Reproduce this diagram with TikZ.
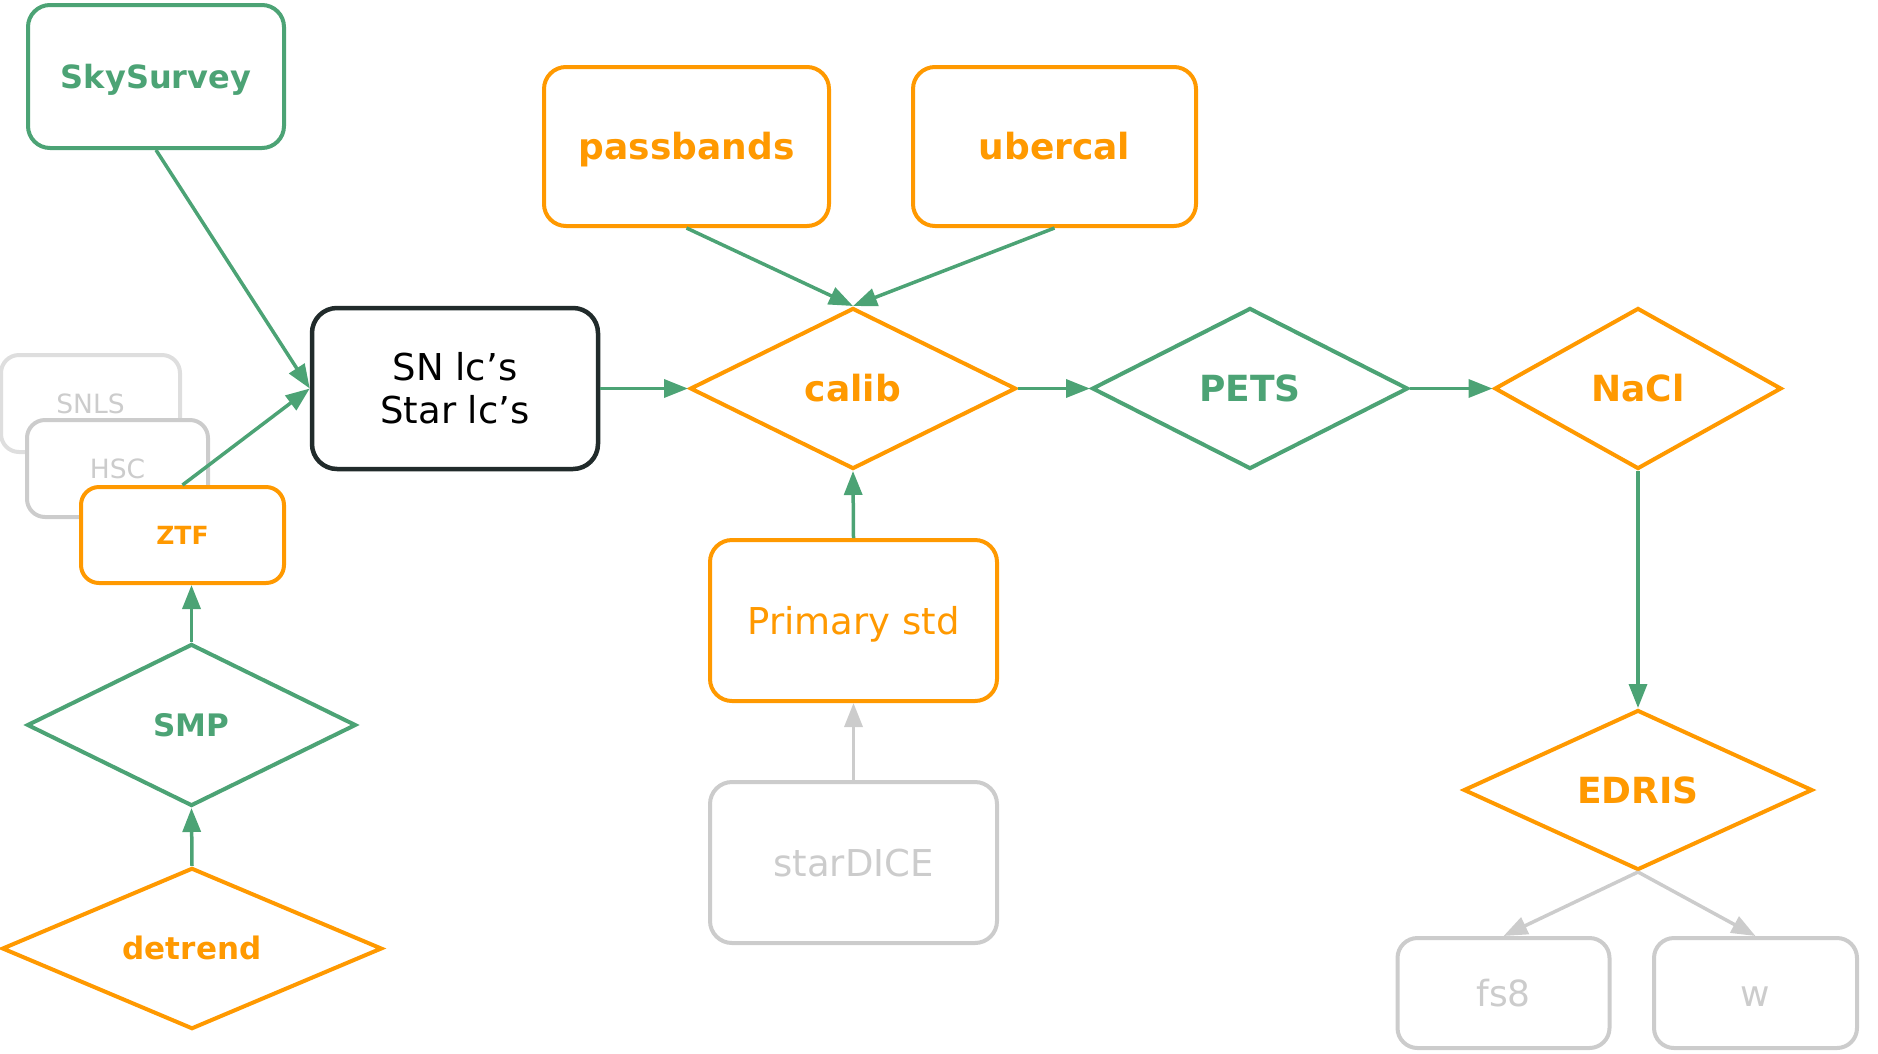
\documentclass[tikz,border=0pt]{standalone}
\usepackage{fontspec}
\setmainfont{DejaVu Sans}
\usetikzlibrary{shapes.geometric,arrows.meta}
\definecolor{cgreen}{RGB}{76,163,117}
\definecolor{corange}{RGB}{255,153,0}
\definecolor{cgray}{RGB}{204,204,204}
\definecolor{clgray}{RGB}{222,222,222}
\definecolor{cdark}{RGB}{33,43,43}
\begin{document}
\begin{tikzpicture}[x=1pt,y=-1pt,
  box/.style={draw, rounded corners=22pt, line width=4pt, fill=white, inner sep=0pt, align=center},
  dia/.style={draw, diamond, line width=4pt, inner sep=0pt, fill=white},
  fb/.style={font=\bfseries\fontsize{#1}{#1}\selectfont, text height={0.73*#1pt}, text depth=0pt},
  fr/.style={font=\fontsize{#1}{#1}\selectfont, text height={0.73*#1pt}, text depth=0pt},
  garrow/.style={draw=cgreen, line width=3.5pt, -{Triangle[length=24pt,width=18pt]}},
  grarrow/.style={draw=cgray, line width=3.5pt, -{Triangle[length=24pt,width=18pt]}}
]
\useasboundingbox (0,0) rectangle (1878,1053);

% left column
\node[box, draw=cgreen, text=cgreen, fb=32, minimum width=256pt, minimum height=143pt] (sky) at (156,76.5) {SkySurvey};
\node[box, draw=clgray, text=cgray, fr=26.5, rounded corners=18pt, minimum width=179pt, minimum height=97pt] (snls) at (90.5,403.5) {SNLS};
\node[box, draw=cgray, text=cgray, fr=26.5, rounded corners=18pt, minimum width=181pt, minimum height=97pt] (hsc) at (117.5,468.5) {HSC};
\node[box, draw=corange, text=corange, fb=25, rounded corners=18pt, minimum width=203pt, minimum height=96pt] (ztf) at (182.5,535) {ZTF};
\node[dia, draw=cgreen, text=cgreen, fb=31, minimum width=329pt, minimum height=162pt] (smp) at (191.5,725) {SMP};
\node[dia, draw=corange, text=corange, fb=31, minimum width=380pt, minimum height=161pt] (detrend) at (192,948.5) {detrend};

% light curves
\node[box, draw=cdark, text=black, line width=4.5pt, font=\fontsize{37}{43}\selectfont, rounded corners=25pt, minimum width=286pt, minimum height=161pt] (sn) at (455,388.5) {SN lc’s\\Star lc’s};

% calibration column
\node[box, draw=corange, text=corange, fb=36, minimum width=285pt, minimum height=159pt] (pass) at (686.5,146.5) {passbands};
\node[box, draw=corange, text=corange, fb=36, minimum width=283pt, minimum height=159pt] (uber) at (1054.5,146.5) {ubercal};
\node[dia, draw=corange, text=corange, fb=36, minimum width=326pt, minimum height=161pt] (calib) at (853,388.5) {calib};
\node[box, draw=corange, text=corange, fr=37, minimum width=287pt, minimum height=161pt] (prim) at (853.5,620.5) {Primary std};
\node[box, draw=cgray, text=cgray, fr=37, minimum width=287pt, minimum height=161pt] (star) at (853.5,862.5) {starDICE};

% right part
\node[dia, draw=cgreen, text=cgreen, fb=36, minimum width=316pt, minimum height=161pt] (pets) at (1250,388.5) {PETS};
\node[dia, draw=corange, text=corange, fb=36, minimum width=287pt, minimum height=161pt] (nacl) at (1638,388.5) {NaCl};
\node[dia, draw=corange, text=corange, fb=36, minimum width=349pt, minimum height=160pt] (edris) at (1638,790) {EDRIS};
\node[box, draw=cgray, text=cgray, fr=36, rounded corners=20pt, minimum width=212pt, minimum height=110pt] (fs8) at (1503.5,993) {fs8};
\node[box, draw=cgray, text=cgray, fr=36, rounded corners=20pt, minimum width=203pt, minimum height=110pt] (w) at (1755.5,993) {w};

% connectors
\draw[garrow] (sky.south) -- (sn.west);
\draw[garrow] (ztf.north) -- (sn.west);
\draw[garrow] (smp.north) -- (smp.north |- ztf.south);
\draw[garrow] (detrend.north) -- (smp.south);
\draw[garrow] (sn.east) -- (calib.west);
\draw[garrow] (pass.south) -- (calib.north);
\draw[garrow] (uber.south) -- (calib.north);
\draw[garrow] (prim.north) -- (calib.south);
\draw[grarrow] (star.north) -- (prim.south);
\draw[garrow] (calib.east) -- (pets.west);
\draw[garrow] (pets.east) -- (nacl.west);
\draw[garrow] (nacl.south) -- (edris.north);
\draw[grarrow] (edris.south) -- (fs8.north);
\draw[grarrow] (edris.south) -- (w.north);
\end{tikzpicture}
\end{document}
